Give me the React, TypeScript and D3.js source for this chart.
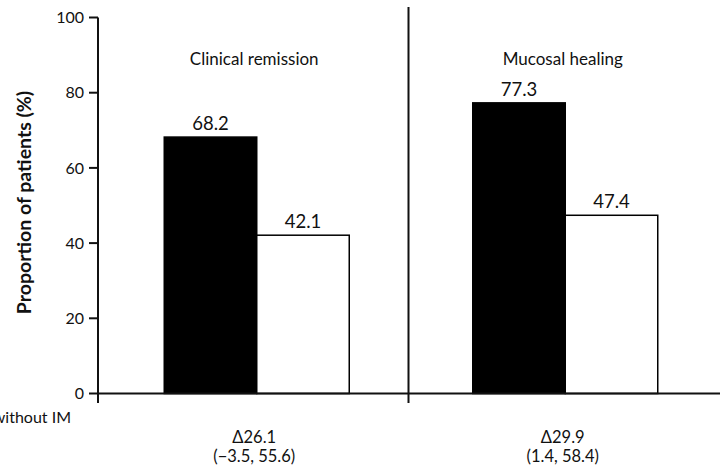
import React from "react";
import * as d3 from "d3";

const categories = ["Clinical remission", "Mucosal healing"];
const seriesNames = ["with IM", "without IM"];
const withIM = [68.2, 77.3];
const withoutIM = [42.1, 47.4];
const deltas = ["Δ26.1", "Δ29.9"];
const intervals = ["(−3.5, 55.6)", "(1.4, 58.4)"];
const yTicks = [0, 20, 40, 60, 80, 100];

const W = 720;
const H = 469;
const FONT = "Lato, 'Open Sans', sans-serif";

export default function App() {
  const y = d3.scaleLinear().domain([0, 100]).range([393.5, 17.5]);
  const x0 = d3.scaleBand<string>().domain(categories).range([100, 717]).paddingInner(0).paddingOuter(0);
  const x1 = d3.scaleBand<string>().domain(seriesNames).range([0, 185]);
  const axisX = 98;
  const fills = ["#000", "#fff"];
  const values = [withIM, withoutIM];

  return (
    <svg width={W} height={H} style={{ position: "absolute", left: 0, top: 0, background: "#fff" }} fontFamily={FONT}>
      <rect x={0} y={0} width={W} height={H} fill="#fff" />
      {/* bars */}
      {categories.map((c, ci) => {
        const cx = x0(c)! + x0.bandwidth() / 2;
        const gx = cx - 185 / 2 + 2.5;
        return (
          <g key={c}>
            {seriesNames.map((s, si) => {
              const v = values[si][ci];
              const bx = gx + x1(s)!;
              return (
                <g key={s}>
                  <rect x={bx} y={y(v)} width={x1.bandwidth()} height={y(0) - y(v)} fill={fills[si]} stroke="#000" strokeWidth={1.5} />
                  <text x={bx + x1.bandwidth() / 2} y={y(v) - 7} textAnchor="middle" fontSize={18.5} fill="#111">
                    {v.toFixed(1)}
                  </text>
                </g>
              );
            })}
            <text x={cx} y={65} textAnchor="middle" fontSize={17} fill="#111">
              {c}
            </text>
            <text x={cx} y={443} textAnchor="middle" fontSize={16.5} fill="#111">
              {deltas[ci]}
            </text>
            <text x={cx} y={462} textAnchor="middle" fontSize={16.5} fill="#111">
              {intervals[ci]}
            </text>
          </g>
        );
      })}
      {/* y axis */}
      <line x1={axisX} x2={axisX} y1={y(100)} y2={403} stroke="#111" strokeWidth={2} />
      {yTicks.map((t) => (
        <g key={t}>
          <line x1={axisX - 9} x2={axisX} y1={y(t)} y2={y(t)} stroke="#111" strokeWidth={2} />
          <text x={axisX - 14} y={y(t)} dy="0.36em" textAnchor="end" fontSize={16} fill="#111">
            {t}
          </text>
        </g>
      ))}
      {/* x axis */}
      <line x1={axisX} x2={W} y1={y(0)} y2={y(0)} stroke="#111" strokeWidth={2} />
      {/* divider */}
      <line x1={x0(categories[1])!} x2={x0(categories[1])!} y1={7} y2={403} stroke="#111" strokeWidth={2} />
      {/* legend remnant */}
      <text x={71} y={423} textAnchor="end" fontSize={16} fill="#111">
        {seriesNames[1]}
      </text>
      {/* y title */}
      <text transform={`translate(31, 202.5) rotate(-90)`} textAnchor="middle" fontSize={19.5} fontWeight="bold" fill="#111">
        Proportion of patients (%)
      </text>
    </svg>
  );
}
